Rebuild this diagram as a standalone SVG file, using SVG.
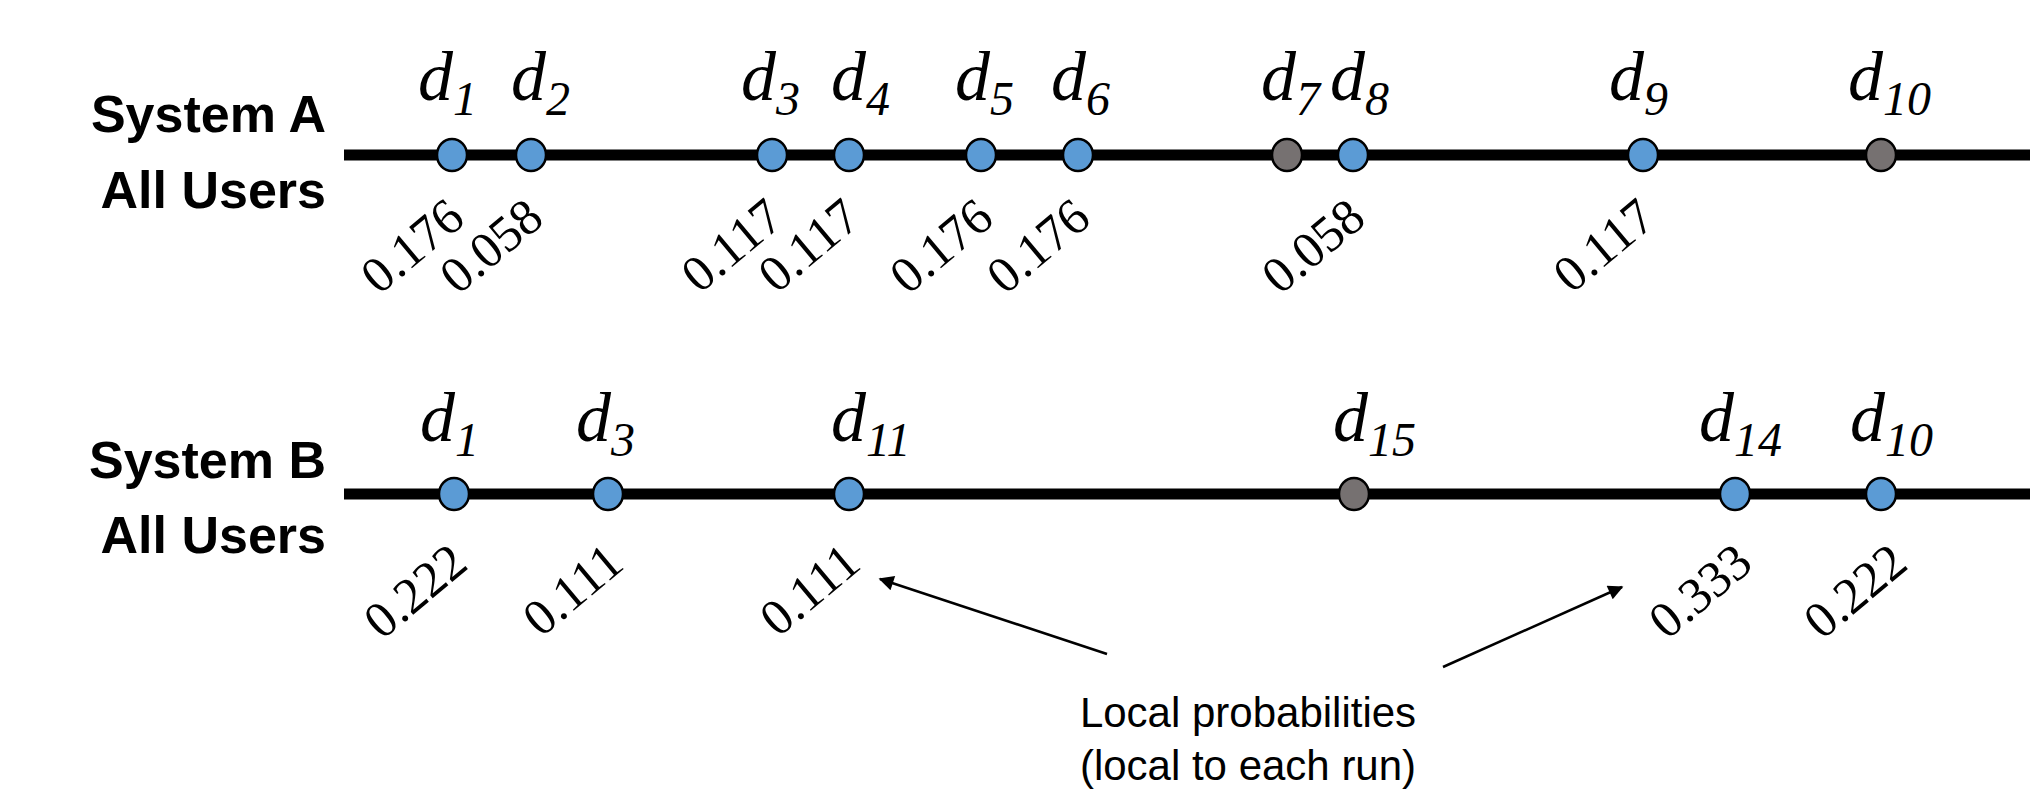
<svg xmlns="http://www.w3.org/2000/svg" width="2030" height="792" viewBox="0 0 2030 792">
<style>
.axis{stroke:#000;stroke-width:11;fill:none}
.dot{fill:#5B9BD5;stroke:#000;stroke-width:2.5}
.dot.gray{fill:#767171}
.lbl{font-family:"Liberation Serif","Times New Roman",serif;font-style:italic;font-size:70px;fill:#000}
.sub{font-size:48px}
.num{font-family:"Liberation Serif","Times New Roman",serif;font-size:51px;fill:#000;text-anchor:end}
.sys{font-family:"Liberation Sans",Arial,sans-serif;font-weight:bold;font-size:52px;fill:#000;text-anchor:end}
.note{font-family:"Liberation Sans",Arial,sans-serif;font-size:42px;fill:#000;text-anchor:middle}
.arr{stroke:#000;stroke-width:2.5;fill:none}
</style>
<defs>
<marker id="ah" viewBox="0 0 10 10" refX="9" refY="5" markerWidth="8" markerHeight="6" orient="auto" markerUnits="strokeWidth">
<path d="M0,0 L10,5 L0,10 z" fill="#000"/>
</marker>
</defs>
<rect width="2030" height="792" fill="#fff"/>
<g id="row-a-title">
<text class="sys" x="326" y="132">System A</text>
<text class="sys" x="326" y="208">All Users</text>
</g>
<g id="row-b-title">
<text class="sys" x="326" y="478">System B</text>
<text class="sys" x="326" y="553">All Users</text>
</g>
<g id="axis-a"><line class="axis" x1="344" y1="155" x2="2030" y2="155"/></g>
<g id="axis-b"><line class="axis" x1="344" y1="494" x2="2030" y2="494"/></g>

<g id="a-d1"><ellipse class="dot" cx="452" cy="155" rx="15" ry="16"/><text class="lbl" x="418" y="100">d<tspan class="sub" dy="15">1</tspan></text><text class="num" transform="translate(467,222) rotate(-40)">0.176</text></g>
<g id="a-d2"><ellipse class="dot" cx="531" cy="155" rx="15" ry="16"/><text class="lbl" x="511" y="100">d<tspan class="sub" dy="15">2</tspan></text><text class="num" transform="translate(546,222) rotate(-40)">0.058</text></g>
<g id="a-d3"><ellipse class="dot" cx="772" cy="155" rx="15" ry="16"/><text class="lbl" x="741" y="100">d<tspan class="sub" dy="15">3</tspan></text><text class="num" transform="translate(786,222) rotate(-40)">0.117</text></g>
<g id="a-d4"><ellipse class="dot" cx="849" cy="155" rx="15" ry="16"/><text class="lbl" x="831" y="100">d<tspan class="sub" dy="15">4</tspan></text><text class="num" transform="translate(863,222) rotate(-40)">0.117</text></g>
<g id="a-d5"><ellipse class="dot" cx="981" cy="155" rx="15" ry="16"/><text class="lbl" x="955" y="100">d<tspan class="sub" dy="15">5</tspan></text><text class="num" transform="translate(996,222) rotate(-40)">0.176</text></g>
<g id="a-d6"><ellipse class="dot" cx="1078" cy="155" rx="15" ry="16"/><text class="lbl" x="1051" y="100">d<tspan class="sub" dy="15">6</tspan></text><text class="num" transform="translate(1093,222) rotate(-40)">0.176</text></g>
<g id="a-d7"><ellipse class="dot gray" cx="1287" cy="155" rx="15" ry="16"/><text class="lbl" x="1261" y="100">d<tspan class="sub" dy="15">7</tspan></text></g>
<g id="a-d8"><ellipse class="dot" cx="1353" cy="155" rx="15" ry="16"/><text class="lbl" x="1330" y="100">d<tspan class="sub" dy="15">8</tspan></text><text class="num" transform="translate(1368,222) rotate(-40)">0.058</text></g>
<g id="a-d9"><ellipse class="dot" cx="1643" cy="155" rx="15" ry="16"/><text class="lbl" x="1609" y="100">d<tspan class="sub" dy="15">9</tspan></text><text class="num" transform="translate(1658,222) rotate(-40)">0.117</text></g>
<g id="a-d10"><ellipse class="dot gray" cx="1881" cy="155" rx="15" ry="16"/><text class="lbl" x="1848" y="100">d<tspan class="sub" dy="15">10</tspan></text></g>

<g id="b-d1"><ellipse class="dot" cx="454" cy="494" rx="15" ry="16"/><text class="lbl" x="420" y="441">d<tspan class="sub" dy="15">1</tspan></text><text class="num" transform="translate(470,567) rotate(-40)">0.222</text></g>
<g id="b-d3"><ellipse class="dot" cx="608" cy="494" rx="15" ry="16"/><text class="lbl" x="576" y="441">d<tspan class="sub" dy="15">3</tspan></text><text class="num" transform="translate(626,567) rotate(-40)">0.111</text></g>
<g id="b-d11"><ellipse class="dot" cx="849" cy="494" rx="15" ry="16"/><text class="lbl" x="831" y="441">d<tspan class="sub" dy="15">11</tspan></text><text class="num" transform="translate(863,567) rotate(-40)">0.111</text></g>
<g id="b-d15"><ellipse class="dot gray" cx="1354" cy="494" rx="15" ry="16"/><text class="lbl" x="1333" y="441">d<tspan class="sub" dy="15">15</tspan></text></g>
<g id="b-d14"><ellipse class="dot" cx="1735" cy="494" rx="15" ry="16"/><text class="lbl" x="1699" y="441">d<tspan class="sub" dy="15">14</tspan></text><text class="num" transform="translate(1755,567) rotate(-40)">0.333</text></g>
<g id="b-d10"><ellipse class="dot" cx="1881" cy="494" rx="15" ry="16"/><text class="lbl" x="1850" y="441">d<tspan class="sub" dy="15">10</tspan></text><text class="num" transform="translate(1910,567) rotate(-40)">0.222</text></g>

<g id="connectors">
<line class="arr" x1="1107" y1="654" x2="880" y2="579" marker-end="url(#ah)"/>
<line class="arr" x1="1443" y1="667" x2="1622" y2="587" marker-end="url(#ah)"/>
</g>
<g id="note">
<text class="note" x="1248" y="727">Local probabilities</text>
<text class="note" x="1248" y="780">(local to each run)</text>
</g>
</svg>
